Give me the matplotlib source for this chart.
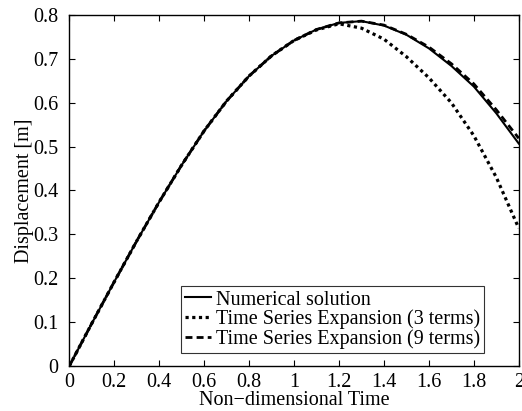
import matplotlib
matplotlib.use("Agg")
import matplotlib.pyplot as plt
from matplotlib.ticker import FuncFormatter

plt.rcParams['font.family'] = ['Liberation Serif', 'DejaVu Serif']
plt.rcParams['font.size'] = 14

# non-dimensional time
t = [0.0, 0.1, 0.2, 0.3, 0.4, 0.5, 0.6, 0.7, 0.8, 0.9, 1.0,
     1.1, 1.2, 1.3, 1.4, 1.5, 1.6, 1.7, 1.8, 1.9, 2.0]

numerical = [0.000, 0.097, 0.192, 0.285, 0.374, 0.458, 0.536, 0.604, 0.661, 0.707, 0.742,
             0.767, 0.782, 0.786, 0.776, 0.755, 0.724, 0.684, 0.637, 0.576, 0.507]

series3 = [0.000, 0.097, 0.192, 0.285, 0.374, 0.458, 0.536, 0.604, 0.661, 0.707, 0.742,
           0.766, 0.780, 0.770, 0.745, 0.705, 0.657, 0.600, 0.525, 0.430, 0.314]

series9 = [0.000, 0.097, 0.192, 0.285, 0.374, 0.458, 0.536, 0.604, 0.661, 0.707, 0.742,
           0.767, 0.782, 0.786, 0.777, 0.756, 0.727, 0.689, 0.643, 0.584, 0.519]

fig = plt.figure(figsize=(5.22, 4.11), dpi=100)
ax = fig.add_axes([0.1328, 0.1095, 0.861, 0.854])

ax.plot(t, numerical, color='black', lw=1.5, label='Numerical solution')
ax.plot(t, series3, color='black', lw=2.3, linestyle=(0, (1, 1.1)),
        label='Time Series Expansion (3 terms)')
ax.plot(t, series9, color='black', lw=2.0, linestyle=(0, (2.5, 1.5)),
        label='Time Series Expansion (9 terms)')

ax.set_xlim(0, 2)
ax.set_ylim(0, 0.8)
ax.set_xticks([0, 0.2, 0.4, 0.6, 0.8, 1.0, 1.2, 1.4, 1.6, 1.8, 2.0])
ax.set_yticks([0, 0.1, 0.2, 0.3, 0.4, 0.5, 0.6, 0.7, 0.8])
fmt = FuncFormatter(lambda v, p: '%g' % round(v, 2))
ax.xaxis.set_major_formatter(fmt)
ax.yaxis.set_major_formatter(fmt)
ax.tick_params(direction='in', top=True, right=True, length=4, width=0.8,
               labelsize=14.5)
ax.tick_params(axis='x', pad=5)
ax.tick_params(axis='y', pad=8)
for s in ax.spines.values():
    s.set_linewidth(1.0)

ax.set_xlabel('Non\u2212dimensional Time', fontsize=14.5, labelpad=-1)
ax.set_ylabel('Displacement [m]', fontsize=14.5, labelpad=-1)

leg = ax.legend(loc='lower right', bbox_to_anchor=(0.923, 0.037), borderaxespad=0,
                fontsize=14.5, frameon=True, fancybox=False, handlelength=1.3,
                handletextpad=0.25, borderpad=0.2, labelspacing=0.0)
leg.get_frame().set_edgecolor('black')
leg.get_frame().set_linewidth(0.8)

fig.savefig('out.png', dpi=100)
